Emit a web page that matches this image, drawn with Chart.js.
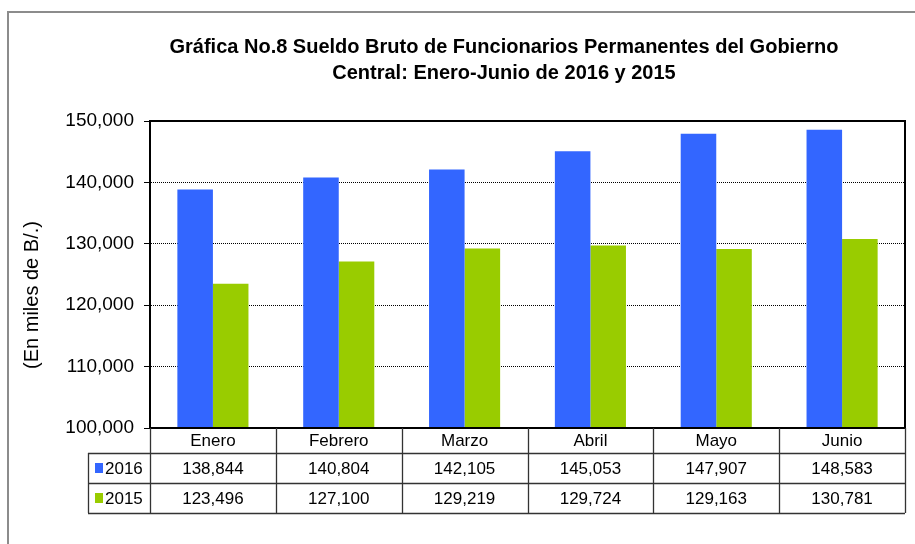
<!DOCTYPE html>
<html lang="es">
<head>
    <meta charset="UTF-8">
    <title>Gráfica No.8 Sueldo Bruto de Funcionarios Permanentes</title>
    <script src="https://cdn.jsdelivr.net/npm/chart.js"></script>
    <style>
        html, body { margin: 0; padding: 0; background: #ffffff; }
        #wrap { width: 915px; height: 544px; position: relative; }
    </style>
</head>
<body>
<div id="wrap"><canvas id="chart" width="915" height="544"></canvas></div>

<script>
    // Data
    const months = ['Enero', 'Febrero', 'Marzo', 'Abril', 'Mayo', 'Junio'];
    const sueldo2016 = [138844, 140804, 142105, 145053, 147907, 148583];
    const sueldo2015 = [123496, 127100, 129219, 129724, 129163, 130781];
    const seriesNames = ['2016', '2015'];
    const titleLines = ['Gráfica No.8 Sueldo Bruto de Funcionarios Permanentes del Gobierno',
                        'Central: Enero-Junio de 2016 y 2015'];
    const yTitle = '(En miles de B/.)';

    const FONT = '"Liberation Sans", Arial, sans-serif';
    const BLUE = '#3366FF';
    const GREEN = '#99CC00';

    const fmt = v => v.toLocaleString('en-US');

    // draws the frame, titles, plot border and the data table under the bars
    const decorations = {
        id: 'decorations',
        beforeDraw(chart) {
            const c = chart.ctx;
            c.save();
            c.fillStyle = '#fff';
            c.fillRect(0, 0, chart.width, chart.height);
            c.strokeStyle = '#8c8c8c';
            c.lineWidth = 2;
            c.strokeRect(8, 12, 920, 560);
            c.restore();
        },
        afterDraw(chart) {
            const c = chart.ctx;
            const area = chart.chartArea;
            const xs = chart.scales.x;
            const catW = (area.right - area.left) / months.length;
            c.save();

            // title
            c.fillStyle = '#000';
            c.font = 'bold 20px ' + FONT;
            c.textAlign = 'center';
            c.textBaseline = 'middle';
            c.fillText(titleLines[0], 504, 47);
            c.fillText(titleLines[1], 504, 73);

            // y axis title
            c.save();
            c.translate(32, 295);
            c.rotate(-Math.PI / 2);
            c.font = '20px ' + FONT;
            c.fillText(yTitle, 0, 0);
            c.restore();

            // plot border
            c.strokeStyle = '#000';
            c.lineWidth = 2;
            c.strokeRect(area.left, area.top, area.right - area.left, area.bottom - area.top);

            // table
            const rowTop = area.bottom;
            const rowH = [25, 30, 30];
            const y1 = rowTop + rowH[0];
            const y2 = y1 + rowH[1];
            const y3 = y2 + rowH[2];
            const keyLeft = 88;
            c.strokeStyle = '#333';
            c.lineWidth = 1.3;
            c.beginPath();
            for (let i = 0; i <= months.length; i++) {
                const x = Math.round(area.left + i * catW) + 0.5;
                c.moveTo(x, rowTop);
                c.lineTo(x, y3);
            }
            c.moveTo(keyLeft + 0.5, y1);
            c.lineTo(keyLeft + 0.5, y3);
            [y1, y2, y3].forEach(y => {
                c.moveTo(keyLeft, Math.round(y) + 0.5);
                c.lineTo(area.right, Math.round(y) + 0.5);
            });
            c.stroke();

            c.font = '17px ' + FONT;
            c.textAlign = 'center';
            c.textBaseline = 'middle';
            c.fillStyle = '#000';
            const rows = [sueldo2016, sueldo2015];
            months.forEach((m, i) => {
                const cx = xs.getPixelForValue(i);
                c.fillText(m, cx, rowTop + rowH[0] / 2 + 1);
                c.fillText(fmt(rows[0][i]), cx, y1 + rowH[1] / 2 + 1);
                c.fillText(fmt(rows[1][i]), cx, y2 + rowH[2] / 2 + 1);
            });

            // legend keys
            const keyColors = [BLUE, GREEN];
            [y1, y2].forEach((y, r) => {
                const cy = y + 15;
                c.fillStyle = keyColors[r];
                c.fillRect(95, cy - 5, 8, 10);
                c.fillStyle = '#000';
                c.textAlign = 'left';
                c.fillText(seriesNames[r], 105, cy + 1);
            });
            c.restore();
        }
    };

    const ctx = document.getElementById('chart').getContext('2d');
    const chart = new Chart(ctx, {
        type: 'bar',
        data: {
            labels: months,
            datasets: [
                { label: seriesNames[0], data: sueldo2016, backgroundColor: BLUE,
                  categoryPercentage: 0.565, barPercentage: 1 },
                { label: seriesNames[1], data: sueldo2015, backgroundColor: GREEN,
                  categoryPercentage: 0.565, barPercentage: 1 }
            ]
        },
        options: {
            responsive: false,
            animation: false,
            layout: { padding: { left: 0, right: 10, top: 121, bottom: 116 } },
            plugins: {
                legend: { display: false },
                title: { display: false },
                tooltip: { enabled: false }
            },
            scales: {
                x: { display: false },
                y: {
                    min: 100000,
                    max: 150000,
                    afterFit(s) { s.width = 150; },
                    ticks: {
                        stepSize: 10000,
                        padding: 10,
                        color: '#000',
                        font: { family: FONT, size: 19 },
                        callback: v => fmt(v)
                    },
                    grid: {
                        color: '#000',
                        lineWidth: 1,
                        tickLength: 6,
                        tickBorderDash: []
                    },
                    border: { color: '#000', width: 2, dash: [1, 1] }
                }
            }
        },
        plugins: [decorations]
    });
</script>
</body>
</html>
